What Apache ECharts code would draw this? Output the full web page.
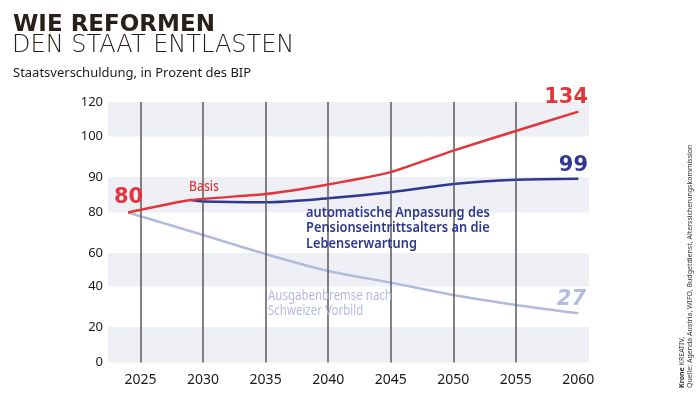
<!DOCTYPE html>
<html>
<head>
<meta charset="utf-8">
<script src="https://cdn.jsdelivr.net/npm/echarts@6/dist/echarts.min.js"></script>
<style>html,body{margin:0;padding:0;background:#fff}#c{width:700px;height:396px}</style>
</head>
<body>
<div id="c"></div>
<script>
// ---- data ----
const yTickLabels = [0, 20, 40, 60, 80, 90, 100, 120];
const xTickLabels = [2025, 2030, 2035, 2040, 2045, 2050, 2055, 2060];
const gridYears = [2025, 2030, 2035, 2040, 2045, 2050, 2055];

const basisYears  = [2024, 2029, 2035, 2040, 2045, 2050, 2055, 2060];
const basisValues = [80, 83.5, 85.2, 87.9, 91.2, 96.5, 103.2, 114.4];

const reformYears  = [2029, 2030, 2035, 2040, 2045, 2050, 2055, 2060];
const reformValues = [83.5, 83.1, 82.9, 84.0, 85.7, 88.0, 89.2, 89.5];

const bremseYears  = [2024, 2030, 2035, 2040, 2045, 2050, 2055, 2060];
const bremseValues = [80, 68.9, 59.4, 49.3, 42.3, 35.8, 30.9, 26.8];

const startValue = 80;
const endValues = [134, 99, 27];

// ---- layout: the printed axis is piecewise (uneven spacing between labels) ----
const yTickPos = [0, 35.5, 76, 109.5, 150, 185.5, 226, 260.5];
function toPos(v) {
  let i = 0;
  while (i < yTickLabels.length - 2 && v > yTickLabels[i + 1]) i++;
  const a = yTickLabels[i], b = yTickLabels[i + 1];
  return yTickPos[i] + (v - a) / (b - a) * (yTickPos[i + 1] - yTickPos[i]);
}
const pairs = (xs, vs) => xs.map((x, i) => [x, toPos(vs[i])]);

const RED = '#e2363b', BLUE = '#2e3890', LIGHT = '#b3badf';
const FONT = 'Noto Sans';

const chart = echarts.init(document.getElementById('c'), null, {renderer: 'canvas'});
chart.setOption({
  animation: false,
  grid: {left: 108, right: 111, top: 102, bottom: 33.5},
  xAxis: {
    type: 'value', min: 2022.4, max: 2060.85,
    axisLine: {show: false}, axisTick: {show: false}, splitLine: {show: false},
    axisLabel: {customValues: xTickLabels, fontFamily: FONT, fontSize: 14, color: '#1a1a1a', margin: 11,
      formatter: v => String(v)}
  },
  yAxis: {
    type: 'value', min: 0, max: 260.5,
    axisLine: {show: false}, axisTick: {show: false}, splitLine: {show: false},
    axisLabel: {customValues: yTickPos, fontFamily: FONT, fontSize: 13, color: '#1a1a1a', margin: 5,
      formatter: v => String(yTickLabels[yTickPos.indexOf(v)])}
  },
  series: [
    {
      type: 'line', data: [], z: 1, silent: true,
      markArea: {
        silent: true,
        itemStyle: {color: '#eef0f6'},
        data: [[{yAxis: yTickPos[6]}, {yAxis: yTickPos[7]}],
               [{yAxis: yTickPos[4]}, {yAxis: yTickPos[5]}],
               [{yAxis: yTickPos[2]}, {yAxis: yTickPos[3]}],
               [{yAxis: yTickPos[0]}, {yAxis: yTickPos[1]}]]
      },
      markLine: {
        silent: true, symbol: 'none', label: {show: false},
        lineStyle: {color: '#5a5a5a', width: 1.5, type: 'solid'},
        data: gridYears.map(y => ({xAxis: y}))
      }
    },
    {type: 'line', z: 3, data: pairs(bremseYears, bremseValues), smooth: 0.3, symbol: 'none',
      lineStyle: {color: LIGHT, width: 2.5}},
    {type: 'line', z: 4, data: pairs(reformYears, reformValues), smooth: 0.3, symbol: 'none',
      lineStyle: {color: BLUE, width: 2.5}},
    {type: 'line', z: 5, data: pairs(basisYears, basisValues), smooth: 0.15, symbol: 'none',
      lineStyle: {color: RED, width: 2.5}}
  ],
  graphic: [
    {type: 'text', z: 100, left: 13, top: 14, style: {text: 'WIE REFORMEN', font: 'bold 23px "DejaVu Sans"', fill: '#2a201b'}},
    {type: 'text', z: 100, left: 12, top: 34, style: {text: 'DEN STAAT ENTLASTEN', font: '200 24px "DejaVu Sans"', fill: '#2a201b'}},
    {type: 'text', z: 100, left: 13, top: 67, style: {text: 'Staatsverschuldung, in Prozent des BIP', font: '13px "Noto Sans"', fill: '#1a1a1a'}},

    {type: 'text', z: 100, x: 114, y: 198, style: {text: String(startValue), font: 'bold 21px "DejaVu Sans"', fill: RED, verticalAlign: 'middle'}},
    {type: 'text', z: 100, x: 588, y: 98, style: {text: String(endValues[0]), font: 'bold 21px "DejaVu Sans"', fill: RED, align: 'right', verticalAlign: 'middle'}},
    {type: 'text', z: 100, x: 588, y: 166, style: {text: String(endValues[1]), font: 'bold 21px "DejaVu Sans"', fill: BLUE, align: 'right', verticalAlign: 'middle'}},
    {type: 'text', z: 100, x: 586, y: 300, style: {text: String(endValues[2]), font: 'italic bold 21px "DejaVu Sans"', fill: LIGHT, align: 'right', verticalAlign: 'middle'}},

    {type: 'text', z: 100, x: 189, y: 187, scaleX: 0.9, style: {text: 'Basis', font: '500 13.5px "Noto Sans"', fill: RED, verticalAlign: 'middle'}},
    {type: 'text', z: 100, x: 306, y: 205, scaleX: 0.95, style: {text: 'automatische Anpassung des\nPensionseintrittsalters an die\nLebenserwartung', font: '600 13.5px "Noto Sans"', fill: BLUE, lineHeight: 15.5}},
    {type: 'text', z: 100, x: 268, y: 289, scaleX: 0.82, style: {text: 'Ausgabenbremse nach\nSchweizer Vorbild', font: '14px "Noto Sans"', fill: LIGHT, lineHeight: 15}},

    {type: 'text', z: 100, x: 682, y: 388, rotation: Math.PI / 2,
      style: {text: '{b|Krone} KREATIV,', rich: {b: {fontWeight: 'bold', fontSize: 7, fontFamily: FONT, fill: '#333'}},
        font: '7px "Noto Sans"', fill: '#333', verticalAlign: 'middle'}},
    {type: 'text', z: 100, x: 690, y: 388, rotation: Math.PI / 2,
      style: {text: 'Quelle: Agenda Austria, WIFO, Budgetdienst, Alterssicherungskommission', font: '7px "Noto Sans"', fill: '#333', verticalAlign: 'middle'}}
  ]
});
</script>
</body>
</html>
